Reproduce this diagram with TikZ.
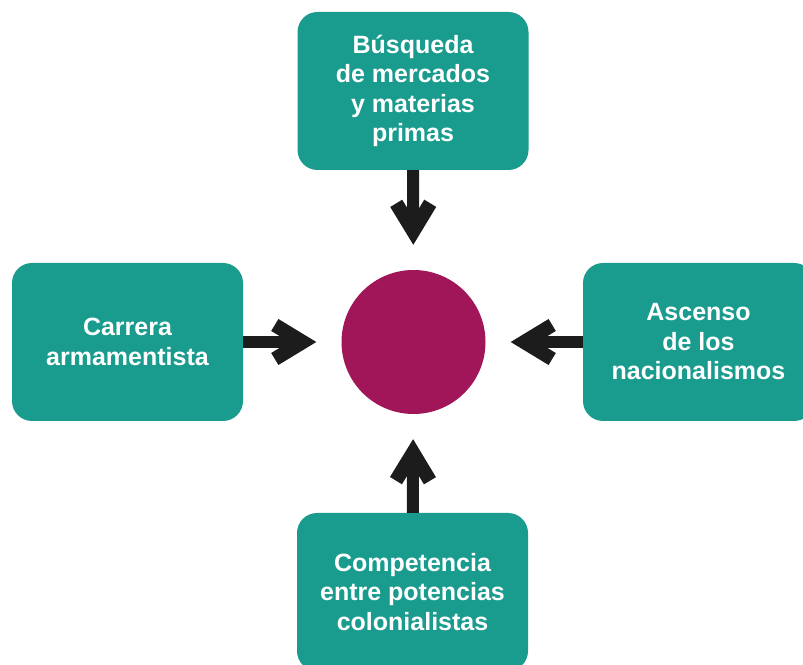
\documentclass[tikz,border=0pt]{standalone}
\usepackage{fontspec}
\setmainfont{Liberation Sans}
\usetikzlibrary{arrows.meta}
\definecolor{boxteal}{RGB}{25,155,142}
\definecolor{circmagenta}{RGB}{160,22,88}
\definecolor{arrowblack}{RGB}{28,28,28}
\begin{document}
\begin{tikzpicture}[x=1pt, y=1pt,
        box/.style={fill=boxteal, rounded corners=20pt, minimum width=231pt, minimum height=158pt,
            text=white, align=center, font=\fontsize{25}{29.5}\selectfont\bfseries},
        flecha/.style={line width=12pt, draw=arrowblack,
            -{Straight Barb[length=28pt, width=34pt, line width=14pt, line cap=butt, line join=miter]},
            shorten >=25pt}]
        \useasboundingbox (0,0) rectangle (803,664);
        \node[circle, fill=circmagenta, minimum size=144pt, inner sep=0pt] (C) at (413.5,322) {};
        \node[box] (T) at (413,573) {Búsqueda\\de mercados\\y materias\\primas};
        \node[box] (L) at (127.5,322) {Carrera\\armamentista};
        \node[box] (R) at (698.5,322) {Ascenso\\de los\\nacionalismos};
        \node[box] (B) at (412.5,72) {Competencia\\entre potencias\\colonialistas};

        \draw[flecha] (T) -- (C);
        \draw[flecha] (L) -- (C);
        \draw[flecha] (R) -- (C);
        \draw[flecha] (B) -- (C);
    \end{tikzpicture}
\end{document}
